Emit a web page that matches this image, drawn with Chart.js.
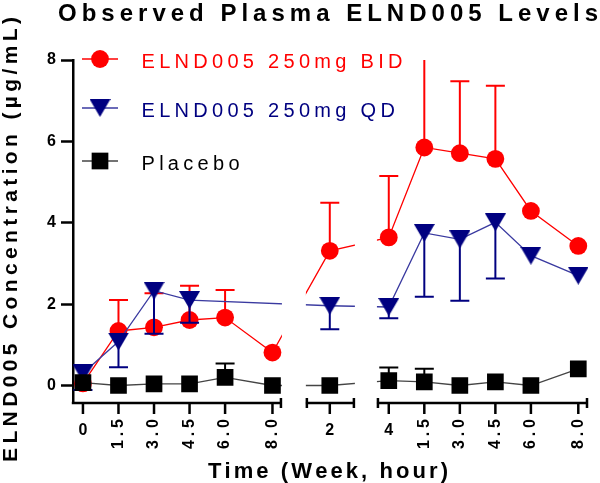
<!DOCTYPE html>
<html><head><meta charset="utf-8">
<script src="https://cdn.jsdelivr.net/npm/chart.js@4.4.0/dist/chart.umd.min.js"></script>
<style>html,body{margin:0;padding:0;background:#fff;}#wrap{width:600px;height:483px;}</style>
</head><body><div id="wrap"><canvas id="c" width="600" height="483"></canvas></div>
<script>
// ---------------- Data ----------------
const week0Hours = [0, 1.5, 3.0, 4.5, 6.0, 8.0];
const week2Hours = [0];
const week4Hours = [0, 1.5, 3.0, 4.5, 6.0, 8.0];
const week0TickLabels = ['0', '1.5', '3.0', '4.5', '6.0', '8.0'];
const week2TickLabels = ['2'];
const week4TickLabels = ['4', '1.5', '3.0', '4.5', '6.0', '8.0'];
const yTicks = [0, 2, 4, 6, 8];

const bidMean      = [0.05, 1.34, 1.43, 1.61, 1.67, 0.81, 3.31, 3.64, 5.85, 5.71, 5.57, 4.29, 3.43];
const bidErrUp     = [0, 0.76, 0.84, 0.84, 0.68, 0, 1.18, 1.51, 2.6, 1.77, 1.80, 0, 0];
const qdMean       = [0.30, 1.08, 2.33, 2.10, null, null, 1.96, 1.93, 3.75, 3.59, 4.01, 3.19, 2.70];
const qdErrDown    = [0.41, 0.63, 1.06, 0.56, null, null, 0.58, 0.28, 1.57, 1.51, 1.38, 0, 0];
const placeboMean  = [0.07, 0.00, 0.04, 0.04, 0.20, 0.00, 0.00, 0.12, 0.09, 0.00, 0.09, 0.00, 0.41];
const placeboErrUp = [0, 0, 0, 0, 0.34, 0, 0, 0.32, 0.32, 0, 0, 0, 0];

const seriesNames = ['ELND005 250mg BID', 'ELND005 250mg QD', 'Placebo'];
const titleText = 'Observed Plasma ELND005 Levels';
const xTitleText = 'Time (Week, hour)';
const yTitleText = 'ELND005 Concentration (\u00B5g/mL)';

// ---------------- Broken-axis layout (axis units) ----------------
const segments = [
  {offset: 0,     from: -0.42, to: 8.4,   hours: week0Hours, labels: week0TickLabels, leftCap: false},
  {offset: 10.42, from: 9.41,  to: 11.48, hours: week2Hours, labels: week2TickLabels, leftCap: true},
  {offset: 12.91, from: 12.41, to: 21.32, hours: week4Hours, labels: week4TickLabels, leftCap: true}
];
const xPos = segments.flatMap(s => s.hours.map(h => s.offset + h));

const RED = '#ff0000', NAVY = '#000080', BLACK = '#000000';
const FONT = '"Liberation Sans", Arial, sans-serif';

// downward triangle marker centred on its bounding box
function makeTriangle(w, h, color) {
  const c = document.createElement('canvas');
  c.width = w; c.height = h;
  const g = c.getContext('2d');
  g.fillStyle = color;
  g.beginPath(); g.moveTo(0, 0); g.lineTo(w, 0); g.lineTo(w / 2, h); g.closePath(); g.fill();
  return c;
}
const triImg = makeTriangle(21, 18, NAVY);

function pts(mean) { return xPos.map((x, i) => ({x: x, y: mean[i]})); }

function spaced(ctx, text, x, y, width, gapOverride) {
  const chars = [...text];
  const ws = chars.map(ch => ctx.measureText(ch).width);
  const total = ws.reduce((a, b) => a + b, 0);
  const gap = gapOverride !== undefined ? gapOverride : (chars.length > 1 ? (width - total) / (chars.length - 1) : 0);
  let cx = x;
  ctx.textAlign = 'left';
  chars.forEach((ch, i) => { ctx.fillText(ch, cx, y); cx += ws[i] + gap; });
  return gap;
}
function gapFor(ctx, text, width) {
  const chars = [...text];
  const total = chars.reduce((a, ch) => a + ctx.measureText(ch).width, 0);
  return (width - total) / (chars.length - 1);
}

const clipPlugin = {
  id: 'segClip',
  beforeDatasetsDraw(chart) {
    const ctx = chart.ctx, xs = chart.scales.x, a = chart.chartArea;
    ctx.save();
    ctx.beginPath();
    segments.forEach(s => {
      const x0 = xs.getPixelForValue(s.from), x1 = xs.getPixelForValue(s.to);
      ctx.rect(x0, a.top, x1 - x0, a.bottom + 20 - a.top);
    });
    ctx.clip();
  },
  afterDatasetsDraw(chart) { chart.ctx.restore(); }
};

const errPlugin = {
  id: 'errBars',
  beforeDatasetDraw(chart, args) {
    const ds = chart.data.datasets[args.index];
    const ctx = chart.ctx, xs = chart.scales.x, ys = chart.scales.y;
    ctx.save();
    ctx.strokeStyle = ds.errColor; ctx.lineWidth = 2;
    ds.data.forEach((p, i) => {
      if (p.y === null) return;
      const e = ds.errUp ? ds.errUp[i] : (ds.errDown ? -ds.errDown[i] : 0);
      if (!e) return;
      const px = xs.getPixelForValue(p.x);
      const py = ys.getPixelForValue(p.y);
      const pe = ys.getPixelForValue(p.y + e);
      ctx.beginPath();
      ctx.moveTo(px, py); ctx.lineTo(px, pe);
      ctx.moveTo(px - 9.5, pe); ctx.lineTo(px + 9.5, pe);
      ctx.stroke();
    });
    ctx.restore();
  }
};

const decoPlugin = {
  id: 'deco',
  afterDraw(chart) {
    const ctx = chart.ctx, xs = chart.scales.x, a = chart.chartArea;
    const yb = a.bottom;
    ctx.save();
    // broken x axis
    ctx.strokeStyle = BLACK; ctx.lineWidth = 2.5; ctx.lineCap = 'butt';
    segments.forEach(s => {
      const x0 = xs.getPixelForValue(s.from), x1 = xs.getPixelForValue(s.to);
      ctx.beginPath(); ctx.moveTo(x0 - (s.leftCap ? 0 : 1.2), yb); ctx.lineTo(x1, yb); ctx.stroke();
      ctx.beginPath();
      if (s.leftCap) { ctx.moveTo(x0 + 1, yb - 5); ctx.lineTo(x0 + 1, yb + 5); }
      ctx.moveTo(x1 - 1, yb - 5); ctx.lineTo(x1 - 1, yb + 5);
      ctx.stroke();
      s.hours.forEach((h, i) => {
        const px = xs.getPixelForValue(s.offset + h);
        ctx.beginPath(); ctx.moveTo(px, yb); ctx.lineTo(px, yb + 11); ctx.stroke();
        const lab = s.labels[i];
        ctx.fillStyle = BLACK;
        ctx.font = 'bold 16px ' + FONT;
        if (lab.length === 1) {
          ctx.textAlign = 'center'; ctx.textBaseline = 'alphabetic';
          ctx.fillText(lab, px, yb + 32);
        } else {
          ctx.save();
          ctx.translate(px, yb + 16);
          ctx.rotate(-Math.PI / 2);
          ctx.textBaseline = 'middle';
          spaced(ctx, lab, -30, 0, 30);
          ctx.restore();
        }
      });
    });
    // titles
    ctx.fillStyle = BLACK; ctx.textBaseline = 'alphabetic';
    ctx.font = 'bold 24px ' + FONT;
    spaced(ctx, titleText, 58, 21, 540);
    ctx.font = 'bold 22px ' + FONT;
    spaced(ctx, xTitleText, 208, 478, 240);
    ctx.save();
    ctx.translate(17, 462);
    ctx.rotate(-Math.PI / 2);
    ctx.font = 'bold 21px ' + FONT;
    spaced(ctx, yTitleText, 0, 0, 445);
    ctx.restore();
    // legend
    const rows = [
      {y: 59, col: RED, lineCol: RED, name: seriesNames[0], marker: 'circle'},
      {y: 108, col: NAVY, lineCol: '#3a3aa0', name: seriesNames[1], marker: 'tri'},
      {y: 161, col: BLACK, lineCol: '#444', name: seriesNames[2], marker: 'rect'}
    ];
    ctx.font = '20px ' + FONT;
    const lgap = gapFor(ctx, seriesNames[0], 261);
    rows.forEach(r => {
      ctx.strokeStyle = r.lineCol; ctx.lineWidth = 1.3;
      ctx.beginPath(); ctx.moveTo(82, r.y); ctx.lineTo(118, r.y); ctx.stroke();
      ctx.fillStyle = r.col;
      if (r.marker === 'circle') { ctx.beginPath(); ctx.arc(100, r.y, 8.9, 0, Math.PI * 2); ctx.fill(); }
      else if (r.marker === 'tri') { ctx.drawImage(triImg, 100 - 10.5, r.y - 9); }
      else { ctx.fillRect(100 - 8.35, r.y - 8.35, 16.7, 16.7); }
      ctx.fillStyle = r.col;
      ctx.textBaseline = 'alphabetic';
      spaced(ctx, r.name, 141.5, r.y + 8.5, 0, lgap);
    });
    ctx.restore();
  }
};

Chart.defaults.font.family = FONT;

new Chart(document.getElementById('c'), {
  type: 'line',
  data: {
    datasets: [
      {label: seriesNames[2], data: pts(placeboMean), errUp: placeboErrUp, errColor: BLACK,
       borderColor: '#444', borderWidth: 1.3, pointStyle: 'rect', pointRadius: 11.8,
       pointBackgroundColor: BLACK, pointBorderWidth: 0, spanGaps: true},
      {label: seriesNames[1], data: pts(qdMean), errDown: qdErrDown, errColor: NAVY,
       borderColor: '#3a3aa0', borderWidth: 1.3, pointStyle: triImg, pointRadius: 12,
       pointBackgroundColor: NAVY, pointBorderWidth: 0, spanGaps: true},
      {label: seriesNames[0], data: pts(bidMean), errUp: bidErrUp, errColor: RED,
       borderColor: RED, borderWidth: 1.3, pointStyle: 'circle', pointRadius: 8.9,
       pointBackgroundColor: RED, pointBorderWidth: 0, spanGaps: true}
    ]
  },
  options: {
    responsive: false,
    animation: false,
    devicePixelRatio: 1,
    layout: {padding: {left: 0, right: 10, top: 60, bottom: 80}},
    plugins: {legend: {display: false}, tooltip: {enabled: false}, title: {display: false}},
    scales: {
      x: {type: 'linear', display: false, min: segments[0].from, max: segments[2].to},
      y: {
        type: 'linear', min: -0.43, max: 8,
        afterBuildTicks: s => { s.ticks = yTicks.map(v => ({value: v})); },
        afterFit: s => { s.width = 73; },
        grid: {display: true, drawOnChartArea: false, drawTicks: true, tickLength: 12, tickWidth: 2.5, tickColor: BLACK},
        border: {display: true, width: 2.5, color: BLACK},
        ticks: {color: BLACK, padding: 5, font: {size: 16, weight: 'bold'}}
      }
    }
  },
  plugins: [clipPlugin, errPlugin, decoPlugin]
});
</script></body></html>
